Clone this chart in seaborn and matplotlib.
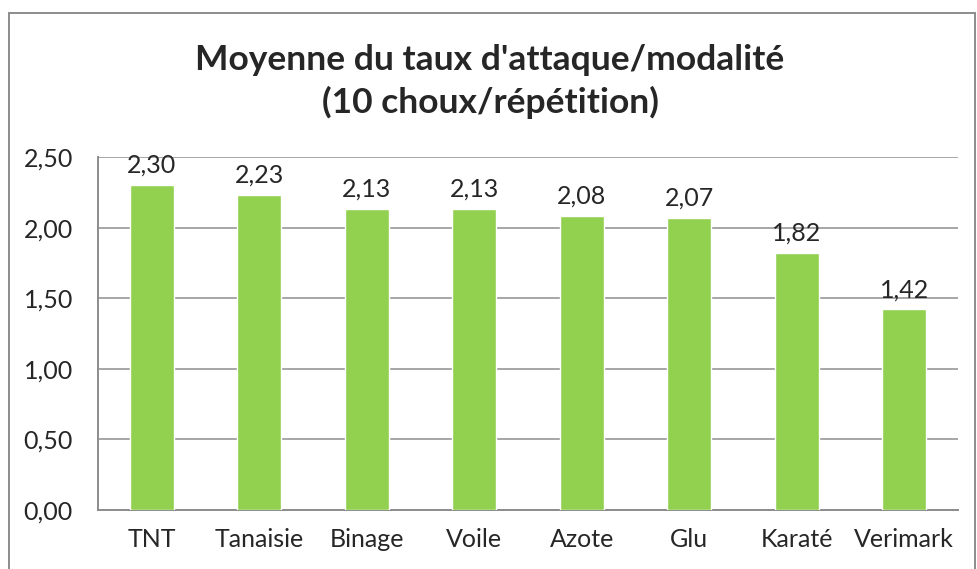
import matplotlib
matplotlib.use("Agg")
import matplotlib.pyplot as plt
import seaborn as sns
import pandas as pd
from matplotlib.patches import Rectangle
from matplotlib.ticker import FuncFormatter

# Data
modalites = ["TNT", "Tanaisie", "Binage", "Voile", "Azote", "Glu", "Karaté", "Verimark"]
taux = [2.30, 2.23, 2.13, 2.13, 2.08, 2.07, 1.82, 1.42]
yticks = [0.0, 0.5, 1.0, 1.5, 2.0, 2.5]

df = pd.DataFrame({"modalite": modalites, "taux": taux})

sns.set_style("white")
plt.rcParams["font.family"] = ["Lato", "DejaVu Sans"]

fig = plt.figure(figsize=(9.78, 5.69), dpi=100)
ax = fig.add_axes([0.1002, 0.1037, 0.8794, 0.6204])

sns.barplot(data=df, x="modalite", y="taux", color="#92D050", width=0.41,
            saturation=1, ax=ax, zorder=3)

ax.set_ylim(0, 2.5)
ax.set_yticks(yticks)
ax.yaxis.set_major_formatter(FuncFormatter(lambda v, p: f"{v:.2f}".replace(".", ",")))
ax.grid(axis="y", color="#A6A6A6", linewidth=1.4, zorder=0)
ax.set_xlabel("")
ax.set_ylabel("")
ax.tick_params(axis="both", length=0, labelsize=18)
ax.tick_params(axis="y", pad=18)
ax.tick_params(axis="x", pad=13)

for s in ["top", "right"]:
    ax.spines[s].set_visible(False)
for s in ["left", "bottom"]:
    ax.spines[s].set_color("#8C8C8C")
    ax.spines[s].set_linewidth(1.4)

for i, v in enumerate(taux):
    ax.annotate(f"{v:.2f}".replace(".", ","), (i, v), xytext=(0, 6),
                textcoords="offset points", ha="center", va="bottom", fontsize=18)

fig.text(0.501, 0.857, "Moyenne du taux d'attaque/modalité\n(10 choux/répétition)",
         ha="center", va="center", fontsize=25.5, fontweight="bold", linespacing=1.38)

# outer chart border
fig.patches.append(Rectangle((0.0095, -0.01), 0.987, 0.988, transform=fig.transFigure,
                             fill=False, edgecolor="#8C8C8C", linewidth=1.4))

fig.savefig("out.png", dpi=100)
